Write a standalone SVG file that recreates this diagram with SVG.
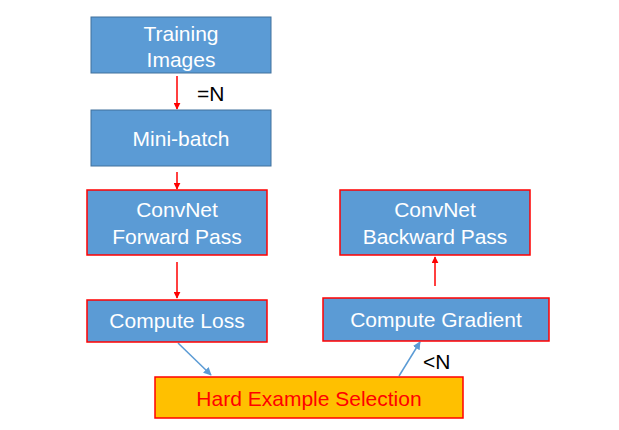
<svg xmlns="http://www.w3.org/2000/svg" width="619" height="430" viewBox="0 0 619 430">
<style>
.box{fill:#5B9BD5;stroke:#41719C;stroke-width:1}
.rb{fill:#5B9BD5;stroke:#FF0000;stroke-width:1.5}
.hb{fill:#FFC000;stroke:#FF0000;stroke-width:1.5}
.t{font-family:"Liberation Sans",Arial,sans-serif;font-size:21px;fill:#FFFFFF;text-anchor:middle}
.ht{font-family:"Liberation Sans",Arial,sans-serif;font-size:21px;fill:#FF0000;text-anchor:middle}
.lbl{font-family:"Liberation Sans",Arial,sans-serif;font-size:21px;fill:#000000}
.ra{stroke:#FF0000;stroke-width:1.5;fill:none;marker-end:url(#rh)}
.ba{stroke:#5B9BD5;stroke-width:1.5;fill:none;marker-end:url(#bh)}
</style>
<defs>
<marker id="rh" viewBox="0 0 10 10" refX="9" refY="5" markerWidth="7" markerHeight="7" orient="auto" markerUnits="userSpaceOnUse"><path d="M0,0 L10,5 L0,10 z" fill="#FF0000"/></marker>
<marker id="bh" viewBox="0 0 10 10" refX="9" refY="5" markerWidth="8" markerHeight="8" orient="auto" markerUnits="userSpaceOnUse"><path d="M0,0 L10,5 L0,10 z" fill="#5B9BD5"/></marker>
</defs>
<rect width="619" height="430" fill="#FFFFFF"/>
<g id="connectors">
<line class="ra" x1="177" y1="76" x2="177" y2="109"/>
<line class="ra" x1="177" y1="172" x2="177" y2="189"/>
<line class="ra" x1="177" y1="262" x2="177" y2="298"/>
<line class="ra" x1="435" y1="286" x2="435" y2="257"/>
<line class="ba" x1="178" y1="343" x2="211" y2="375"/>
<line class="ba" x1="399" y1="376" x2="420" y2="342"/>
<text class="lbl" x="197" y="101" font-size="23">=N</text>
<text class="lbl" x="423" y="369">&lt;N</text>
</g>
<g id="training-images">
<rect class="box" x="91" y="17" width="180" height="56"/>
<text class="t" x="181" y="41">Training</text>
<text class="t" x="181" y="67">Images</text>
</g>
<g id="mini-batch">
<rect class="box" x="91" y="110" width="180" height="56"/>
<text class="t" x="181" y="146">Mini-batch</text>
</g>
<g id="forward-pass">
<rect class="rb" x="87" y="190" width="180" height="65"/>
<text class="t" x="177" y="217">ConvNet</text>
<text class="t" x="177" y="244">Forward Pass</text>
</g>
<g id="compute-loss">
<rect class="rb" x="87" y="300" width="180" height="42"/>
<text class="t" x="177" y="328">Compute Loss</text>
</g>
<g id="backward-pass">
<rect class="rb" x="340" y="190" width="190" height="65"/>
<text class="t" x="435" y="217">ConvNet</text>
<text class="t" x="435" y="244">Backward Pass</text>
</g>
<g id="compute-gradient">
<rect class="rb" x="323" y="298" width="226" height="43"/>
<text class="t" x="436" y="327">Compute Gradient</text>
</g>
<g id="hard-example-selection">
<rect class="hb" x="155" y="377" width="308" height="41"/>
<text class="ht" x="309" y="406">Hard Example Selection</text>
</g>
</svg>
